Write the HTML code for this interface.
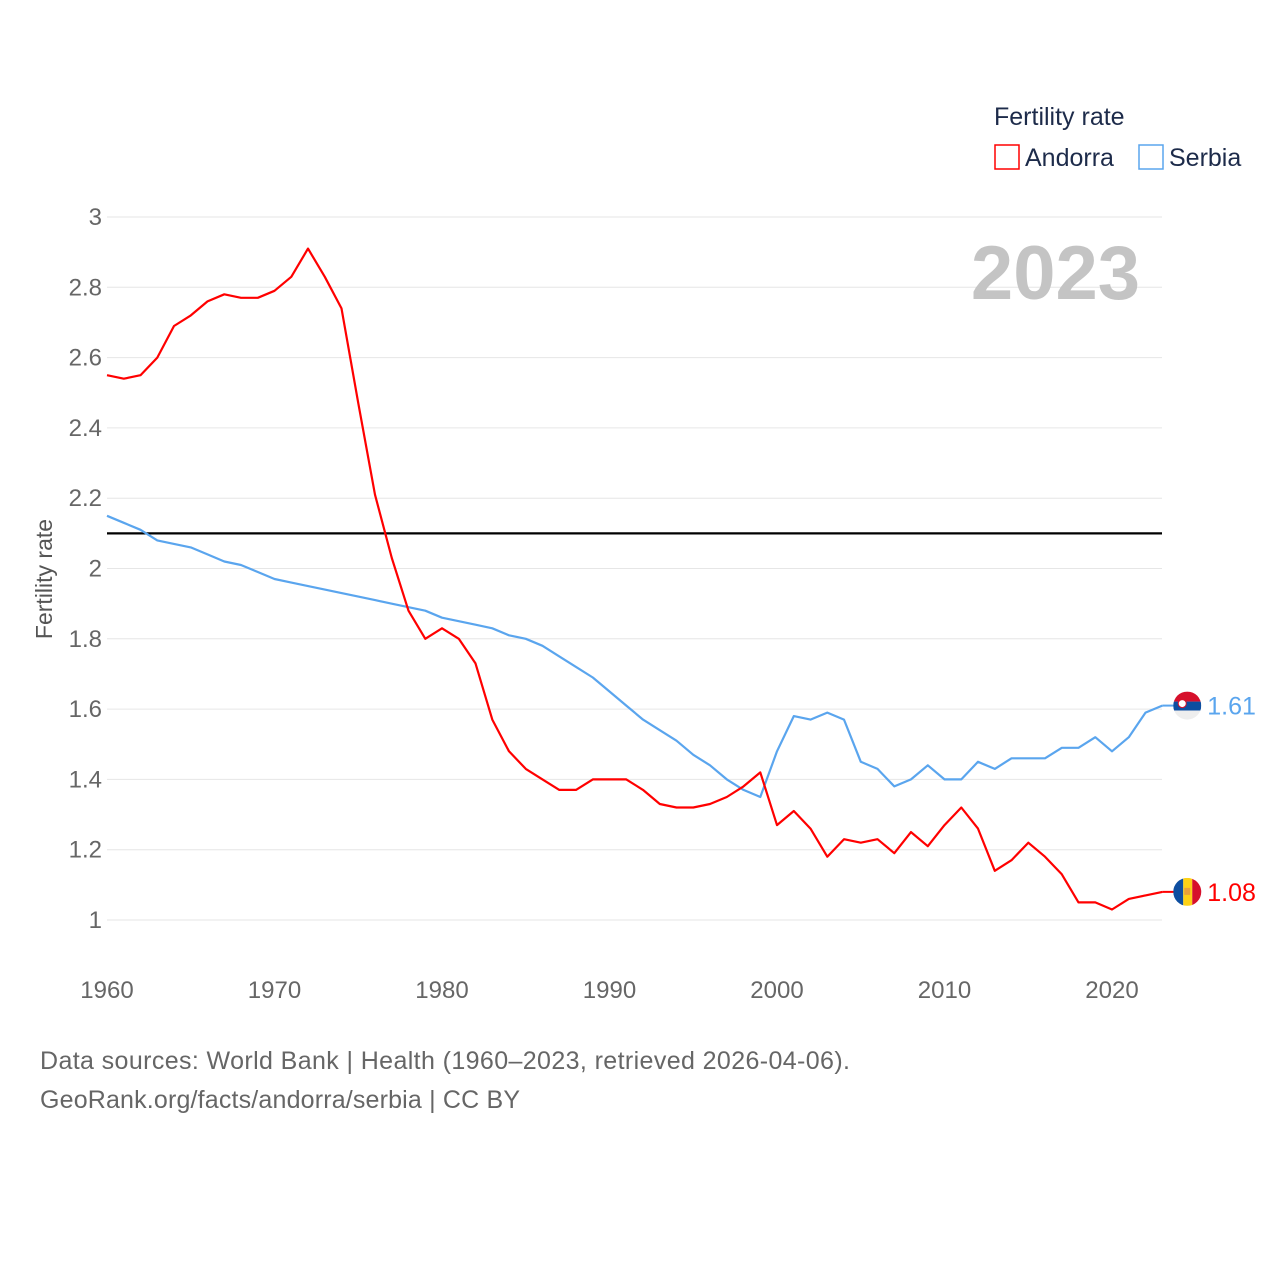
<!DOCTYPE html>
<html><head><meta charset="utf-8"><style>
html,body{margin:0;padding:0;background:#fff;}
svg{display:block;font-family:"Liberation Sans",sans-serif;}
</style></head><body>
<svg id="chart" width="1280" height="1280" viewBox="0 0 1280 1280">
<g id="grid"></g>
<g id="yticks"></g>
<g id="xticks"></g>
<text x="52" y="579" transform="rotate(-90 52 579)" text-anchor="middle" font-size="23" fill="#555">Fertility rate</text>
<text x="1140" y="299" text-anchor="end" font-size="76" font-weight="bold" fill="#c4c4c4">2023</text>
<g>
<text x="994" y="125" font-size="25" fill="#1d2b4a">Fertility rate</text>
<g><rect x="995" y="145" width="24" height="24" fill="none" stroke="#ff0000" stroke-width="1.5"/><text x="1025" y="166" font-size="25" fill="#1d2b4a">Andorra</text></g>
<g><rect x="1139" y="145" width="24" height="24" fill="none" stroke="#5aa5ee" stroke-width="1.5"/><text x="1169" y="166" font-size="25" fill="#1d2b4a">Serbia</text></g>
</g>
<g id="series"></g>
<text x="40" y="1069" font-size="25" fill="#666" textLength="810" lengthAdjust="spacing">Data sources: World Bank | Health (1960–2023, retrieved 2026-04-06).</text>
<text x="40" y="1108" font-size="25" fill="#666" textLength="480" lengthAdjust="spacing">GeoRank.org/facts/andorra/serbia | CC BY</text>
</svg>
<script>
const years = Array.from({length:64},(_,i)=>1960+i);
const andorra = [2.55,2.54,2.55,2.60,2.69,2.72,2.76,2.78,2.77,2.77,2.79,2.83,2.91,2.83,2.74,2.47,2.21,2.03,1.88,1.80,1.83,1.80,1.73,1.57,1.48,1.43,1.40,1.37,1.37,1.40,1.40,1.40,1.37,1.33,1.32,1.32,1.33,1.35,1.38,1.42,1.27,1.31,1.26,1.18,1.23,1.22,1.23,1.19,1.25,1.21,1.27,1.32,1.26,1.14,1.17,1.22,1.18,1.13,1.05,1.05,1.03,1.06,1.07,1.08];
const serbia = [2.15,2.13,2.11,2.08,2.07,2.06,2.04,2.02,2.01,1.99,1.97,1.96,1.95,1.94,1.93,1.92,1.91,1.90,1.89,1.88,1.86,1.85,1.84,1.83,1.81,1.80,1.78,1.75,1.72,1.69,1.65,1.61,1.57,1.54,1.51,1.47,1.44,1.40,1.37,1.35,1.48,1.58,1.57,1.59,1.57,1.45,1.43,1.38,1.40,1.44,1.40,1.40,1.45,1.43,1.46,1.46,1.46,1.49,1.49,1.52,1.48,1.52,1.59,1.61];
const yTicks = [1,1.2,1.4,1.6,1.8,2,2.2,2.4,2.6,2.8,3];
const xTicks = [1960,1970,1980,1990,2000,2010,2020];
const replacement = [2.1];

const X = y => 107 + (y-1960)*(1005/60);
const Y = v => 920 - (v-1)*351.5;
const NS='http://www.w3.org/2000/svg';
function mk(tag, attrs, parent){const e=document.createElementNS(NS,tag);for(const k in attrs)e.setAttribute(k,attrs[k]);parent.appendChild(e);return e;}
const grid=document.getElementById('grid'), yt=document.getElementById('yticks'), xt=document.getElementById('xticks'), ser=document.getElementById('series');
yTicks.forEach(v=>{
  const l=mk('line',{x1:107,x2:1162,y1:Y(v),y2:Y(v),stroke:'#e6e6e6','stroke-width':1},grid);
  
  
  const t=mk('text',{x:102,y:Y(v)+8,'text-anchor':'end','font-size':24,fill:'#666'},yt);
  t.textContent=String(v);
  
  
});
xTicks.forEach(yr=>{
  const t=mk('text',{x:X(yr),y:998,'text-anchor':'middle','font-size':24,fill:'#666'},xt);
  t.textContent=String(yr);
  
  
});
replacement.forEach(v=>{
  const l=mk('line',{x1:107,x2:1162,y1:Y(v),y2:Y(v),stroke:'#000','stroke-width':2.2},ser);
  
  
});
function line(vals,color,name){
  const d=vals.map((v,i)=>(i?'L':'M')+X(years[i]).toFixed(1)+','+Y(v).toFixed(1)).join(' ');
  const p=mk('path',{d:d,fill:'none',stroke:color,'stroke-width':2.2,'stroke-linejoin':'round'},ser);
  
  
}
line(serbia,'#5aa5ee','serbia-line');
line(andorra,'#ff0000','andorra-line');
function endLabel(vals,color,name,flag){
  const last=vals[vals.length-1], x=X(years[years.length-1]), y=Y(last);
  mk('line',{x1:x,x2:x+12,y1:y,y2:y,stroke:color,'stroke-width':2},ser);
  const g=mk('g',{},ser);
  
  
  const cx=x+25;
  const cp=mk('clipPath',{id:'c'+name},g);
  mk('circle',{cx:cx,cy:y,r:14},cp);
  const gg=mk('g',{'clip-path':'url(#c'+name+')'},g);
  if(flag==='rs'){
    mk('rect',{x:cx-14,y:y-14,width:28,height:10,fill:'#d6102b'},gg);
    mk('rect',{x:cx-14,y:y-4,width:28,height:9,fill:'#0d4ea0'},gg);
    mk('rect',{x:cx-14,y:y+5,width:28,height:10,fill:'#eeeeee'},gg);
    mk('circle',{cx:cx-5,cy:y-2,r:4,fill:'#fff',stroke:'#d6102b'},gg);
  } else {
    mk('rect',{x:cx-14,y:y-14,width:10,height:28,fill:'#0d4ea0'},gg);
    mk('rect',{x:cx-4,y:y-14,width:9,height:28,fill:'#fcd116'},gg);
    mk('rect',{x:cx+5,y:y-14,width:10,height:28,fill:'#d6102b'},gg);
    mk('rect',{x:cx-3,y:y-4,width:6,height:7,fill:'#e8a13a'},gg);
  }
  const t=mk('text',{x:cx+20,y:y+9,'font-size':25,fill:color},ser);
  t.textContent=last.toFixed(2);
  
  
}
endLabel(serbia,'#5aa5ee','serbia','rs');
endLabel(andorra,'#ff0000','andorra','ad');
</script>
</body></html>
